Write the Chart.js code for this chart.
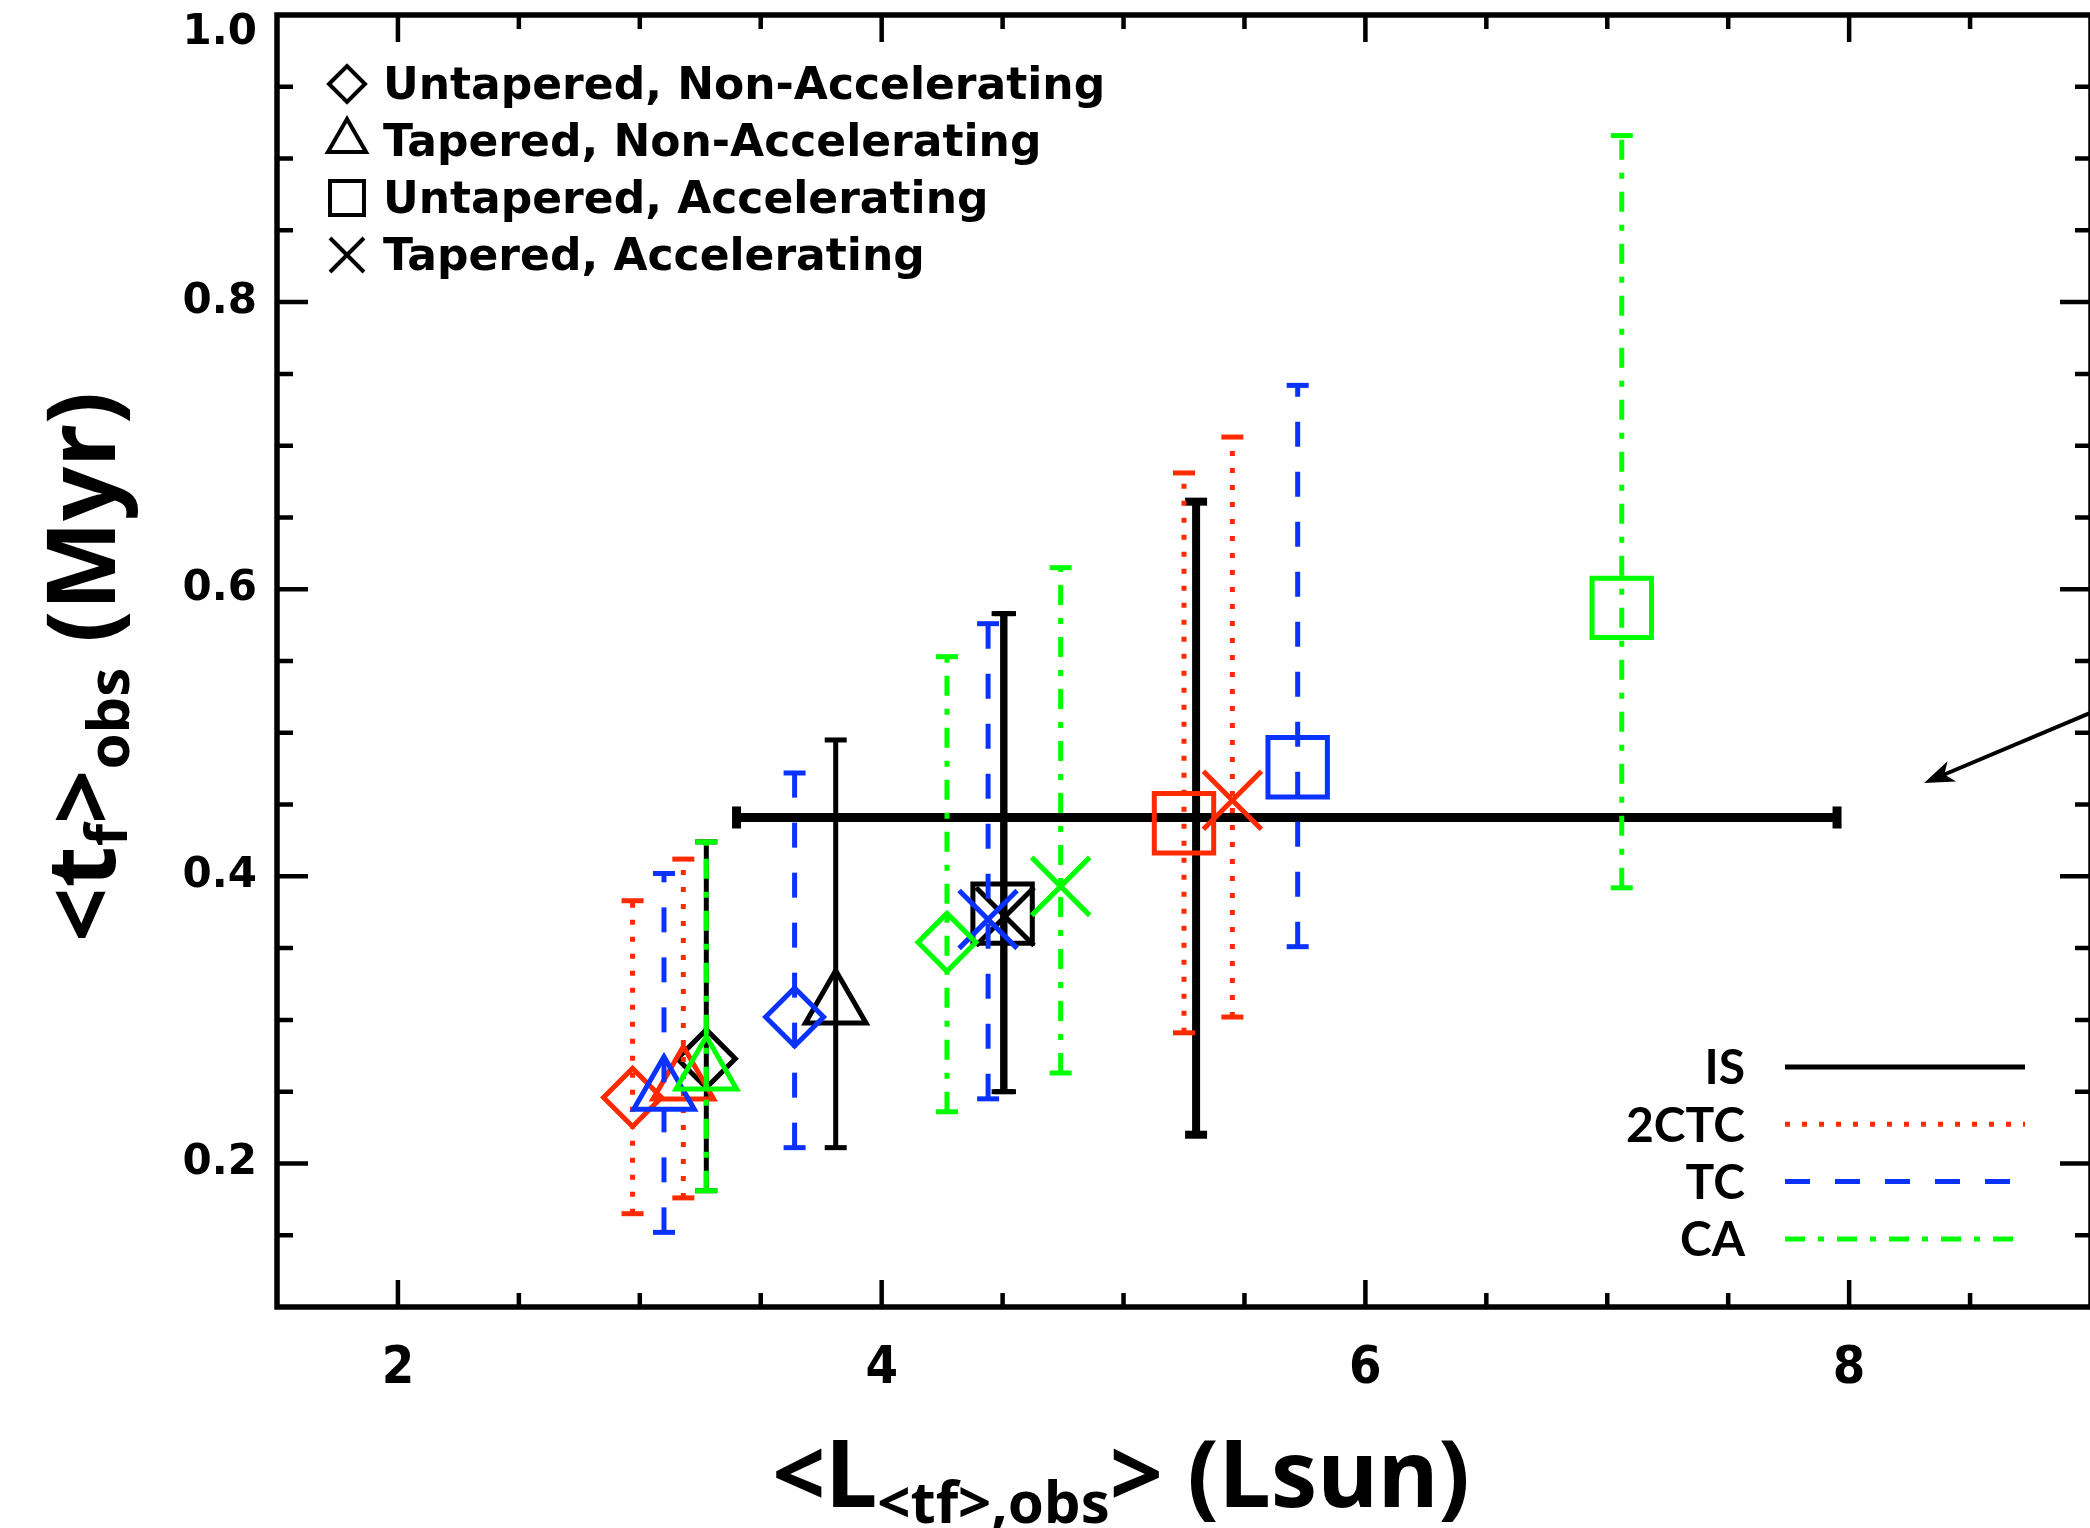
<!DOCTYPE html>
<html>
<head>
<meta charset="utf-8">
<script src="https://cdn.jsdelivr.net/npm/chart.js@4.4.1/dist/chart.umd.min.js"></script>
<style>
  html, body { margin: 0; padding: 0; background: #fff; overflow: hidden; }
  #wrap { position: absolute; left: 0; top: 0; width: 2100px; height: 1528px; }
</style>
</head>
<body>
<div id="wrap"><canvas id="chart" width="2100" height="1528"></canvas></div>
<script>
// models and marker shapes
const modelNames = ['IS', '2CTC', 'TC', 'CA'];
const modelColors = ['#000000', '#ff2a00', '#0a32ff', '#00ff00'];
const modelDash = [[], [5, 12], [25, 25], [20, 13, 6, 13]];
const shapeNames = ['Untapered, Non-Accelerating', 'Tapered, Non-Accelerating',
  'Untapered, Accelerating', 'Tapered, Accelerating'];
const shapeStyles = ['rectRot', 'triangle', 'rect', 'crossRot'];
const shapeRadii = [29, 35, 42, 41];

// values per model, in shapeNames order: <L> (Lsun), <tf> (Myr), error bar low / high
const isL = [3.275, 3.81, 4.50, 4.51];
const isT = [0.273, 0.310, 0.374, 0.372];
const isLo = [0.181, 0.211, 0.250, 0.250];
const isHi = [0.424, 0.495, 0.583, 0.583];

const ctcL = [2.97, 3.18, 5.25, 5.45];
const ctcT = [0.246, 0.257, 0.437, 0.453];
const ctcLo = [0.165, 0.176, 0.291, 0.302];
const ctcHi = [0.383, 0.412, 0.681, 0.706];

const tcL = [3.64, 3.10, 5.72, 4.44];
const tcT = [0.302, 0.250, 0.476, 0.370];
const tcLo = [0.211, 0.152, 0.351, 0.245];
const tcHi = [0.472, 0.402, 0.742, 0.576];

const caL = [4.27, 3.275, 7.06, 4.74];
const caT = [0.354, 0.264, 0.587, 0.393];
const caLo = [0.236, 0.181, 0.392, 0.263];
const caHi = [0.553, 0.424, 0.916, 0.615];

// observed value with its ranges
const obsL = 5.30;
const obsT = 0.441;
const obsLRange = [3.40, 7.95];
const obsTRange = [0.220, 0.661];

// arrow (from, to) in data units
const arrowFrom = [9.0, 0.514];
const arrowTo = [8.31, 0.465];

// axes
const xMin = 1.5, xMax = 9.0, xMinorStep = 0.5;
const yMin = 0.1, yMax = 1.0, yMinorStep = 0.05;
const xTickValues = [2, 4, 6, 8];
const yTickValues = [0.2, 0.4, 0.6, 0.8, 1.0];

const modelL = [isL, ctcL, tcL, caL];
const modelT = [isT, ctcT, tcT, caT];
const modelLo = [isLo, ctcLo, tcLo, caLo];
const modelHi = [isHi, ctcHi, tcHi, caHi];

const datasets = [];

// markers and error bars; lower order is drawn on top
modelNames.forEach((name, m) => {
  const color = modelColors[m];
  datasets.push({
    label: name,
    data: modelL[m].map((x, i) => ({ x: x, y: modelT[m][i] })),
    showLine: false,
    pointStyle: shapeStyles,
    pointRadius: shapeRadii,
    pointHoverRadius: shapeRadii,
    pointBorderWidth: 5,
    pointBorderColor: color,
    pointBackgroundColor: 'rgba(0,0,0,0)',
    order: 7 - 2 * m
  });
  modelL[m].forEach((x, i) => {
    datasets.push({
      label: name + ' err',
      data: [{ x: x, y: modelLo[m][i] }, { x: x, y: modelHi[m][i] }],
      showLine: true,
      borderColor: color,
      borderWidth: 5,
      borderDash: modelDash[m],
      pointStyle: 'line',
      pointRadius: 11,
      pointHoverRadius: 11,
      pointBorderWidth: 5,
      pointBorderColor: color,
      order: 8 - 2 * m
    });
  });
});

// observed ranges
datasets.push({
  label: 'obs L',
  data: [{ x: obsLRange[0], y: obsT }, { x: obsLRange[1], y: obsT }],
  showLine: true, borderColor: '#000', borderWidth: 9,
  pointStyle: 'line', pointRotation: 90, pointRadius: 11, pointHoverRadius: 11,
  pointBorderWidth: 9, pointBorderColor: '#000', order: 9
});
datasets.push({
  label: 'obs t',
  data: [{ x: obsL, y: obsTRange[0] }, { x: obsL, y: obsTRange[1] }],
  showLine: true, borderColor: '#000', borderWidth: 8,
  pointStyle: 'line', pointRadius: 11, pointHoverRadius: 11,
  pointBorderWidth: 8, pointBorderColor: '#000', order: 9
});

function drawShape(ctx, style, r, x, y, color) {
  ctx.save();
  ctx.strokeStyle = color;
  ctx.fillStyle = 'rgba(0,0,0,0)';
  Chart.helpers.drawPoint(ctx, { pointStyle: style, radius: r, borderWidth: 4, rotation: 0 }, x, y);
  ctx.restore();
}

function drawParts(ctx, parts, cx, base) {
  let total = 0;
  parts.forEach(p => { ctx.font = p.font; p.w = ctx.measureText(p.text).width; total += p.w; });
  let x = cx - total / 2;
  parts.forEach(p => {
    ctx.font = p.font;
    ctx.fillText(p.text, x, base + (p.dy || 0));
    x += p.w;
  });
}

const framePlugin = {
  id: 'frame',
  afterDatasetsDraw(chart) {
    const { ctx, chartArea: a, scales: { x, y } } = chart;
    ctx.save();
    ctx.strokeStyle = '#000';
    ctx.lineCap = 'butt';

    // inward ticks on all four sides
    ctx.lineWidth = 4.5;
    ctx.beginPath();
    const nx = Math.round((xMax - xMin) / xMinorStep);
    for (let i = 1; i < nx; i++) {
      const v = xMin + i * xMinorStep;
      const major = xTickValues.some(t => Math.abs(t - v) < 1e-6);
      const len = major ? 27 : 14;
      const px = x.getPixelForValue(v);
      ctx.moveTo(px, a.bottom); ctx.lineTo(px, a.bottom - len);
      ctx.moveTo(px, a.top); ctx.lineTo(px, a.top + len);
    }
    const ny = Math.round((yMax - yMin) / yMinorStep);
    for (let i = 1; i < ny; i++) {
      const v = yMin + i * yMinorStep;
      const major = yTickValues.some(t => Math.abs(t - v) < 1e-6);
      const len = major ? 31 : 16;
      const py = y.getPixelForValue(v);
      ctx.moveTo(a.left, py); ctx.lineTo(a.left + len, py);
      ctx.moveTo(a.right, py); ctx.lineTo(a.right - len, py);
    }
    ctx.stroke();

    ctx.lineWidth = 5.5;
    ctx.strokeRect(a.left, a.top, a.right - a.left, a.bottom - a.top);

    // arrow
    const x0 = x.getPixelForValue(arrowFrom[0]), y0 = y.getPixelForValue(arrowFrom[1]);
    const x1 = x.getPixelForValue(arrowTo[0]), y1 = y.getPixelForValue(arrowTo[1]);
    const ang = Math.atan2(y1 - y0, x1 - x0);
    ctx.lineWidth = 4;
    ctx.beginPath();
    ctx.moveTo(x0, y0);
    ctx.lineTo(x1 - 20 * Math.cos(ang), y1 - 20 * Math.sin(ang));
    ctx.stroke();
    ctx.fillStyle = '#000';
    ctx.beginPath();
    ctx.moveTo(x1, y1);
    ctx.lineTo(x1 - 30 * Math.cos(ang) + 11 * Math.sin(ang), y1 - 30 * Math.sin(ang) - 11 * Math.cos(ang));
    ctx.lineTo(x1 - 22 * Math.cos(ang), y1 - 22 * Math.sin(ang));
    ctx.lineTo(x1 - 30 * Math.cos(ang) - 11 * Math.sin(ang), y1 - 30 * Math.sin(ang) + 11 * Math.cos(ang));
    ctx.closePath();
    ctx.fill();

    // shape legend (top left)
    const shapeLegendR = [18, 22, 24, 24];
    ctx.textBaseline = 'alphabetic';
    ctx.textAlign = 'left';
    shapeNames.forEach((s, i) => {
      const ry = 84 + i * 57;
      drawShape(ctx, shapeStyles[i], shapeLegendR[i], 347, ry, '#000');
      ctx.fillStyle = '#000';
      ctx.font = 'bold 44px "DejaVu Sans"';
      ctx.fillText(s, 383, ry + 15);
    });

    // model legend (bottom right)
    ctx.textAlign = 'right';
    ctx.textBaseline = 'middle';
    modelNames.forEach((n, m) => {
      const ry = 1067 + m * 57.3;
      ctx.fillStyle = '#000';
      ctx.font = 'bold 48px Lato';
      ctx.fillText(n, 1745, ry + 2);
      ctx.strokeStyle = modelColors[m];
      ctx.lineWidth = 5;
      ctx.setLineDash(modelDash[m]);
      ctx.beginPath();
      ctx.moveTo(1785, ry); ctx.lineTo(2025, ry);
      ctx.stroke();
      ctx.setLineDash([]);
    });
    ctx.restore();
  },
  afterDraw(chart) {
    const { ctx } = chart;
    ctx.save();
    ctx.fillStyle = '#000';
    ctx.textAlign = 'left';
    ctx.textBaseline = 'alphabetic';
    // x title
    drawParts(ctx, [
      { text: '<L', font: 'bold 93px "Noto Sans"' },
      { text: '<tf>,obs', font: 'bold 58px "Noto Sans"', dy: 16 },
      { text: '> (Lsun)', font: 'bold 93px "Noto Sans"' }
    ], 1121, 1507);
    // y title
    ctx.translate(115, 667);
    ctx.rotate(-Math.PI / 2);
    drawParts(ctx, [
      { text: '<t', font: 'bold 95px "Noto Sans"' },
      { text: 'f', font: 'bold 58px "Noto Sans"', dy: 12 },
      { text: '>', font: 'bold 95px "Noto Sans"' },
      { text: 'obs', font: 'bold 58px "Noto Sans"', dy: 14 },
      { text: ' (Myr)', font: 'bold 95px "Noto Sans"' }
    ], 0, 0);
    ctx.restore();
  }
};

new Chart(document.getElementById('chart'), {
  type: 'scatter',
  data: { datasets: datasets },
  options: {
    responsive: false,
    animation: false,
    devicePixelRatio: 1,
    events: [],
    layout: { autoPadding: false, padding: { left: 0, top: 15, right: 9, bottom: 0 } },
    plugins: { legend: { display: false }, tooltip: { enabled: false } },
    scales: {
      x: {
        type: 'linear', position: 'bottom', min: xMin, max: xMax,
        grid: { display: false, drawTicks: false },
        border: { display: false },
        ticks: {
          color: '#000', padding: 31,
          font: { family: '"Liberation Sans Narrow", "DejaVu Sans Condensed", "DejaVu Sans"', size: 52, weight: 'bold' },
          callback: v => String(v)
        },
        afterBuildTicks: s => { s.ticks = xTickValues.map(v => ({ value: v })); },
        afterFit: s => { s.height = 221; s.paddingLeft = 0; s.paddingRight = 0; }
      },
      y: {
        type: 'linear', position: 'left', min: yMin, max: yMax,
        grid: { display: false, drawTicks: false },
        border: { display: false },
        ticks: {
          color: '#000', padding: 20,
          font: { family: '"DejaVu Sans"', size: 42, weight: 'bold', lineHeight: 0.86 },
          // top label sits just below the frame corner, as in the original
          callback: v => (v >= yMax - 1e-9 ? ['', v.toFixed(1)] : v.toFixed(1))
        },
        afterBuildTicks: s => { s.ticks = yTickValues.map(v => ({ value: v })); },
        afterFit: s => { s.width = 277; s.paddingTop = 0; s.paddingBottom = 0; }
      }
    }
  },
  plugins: [framePlugin]
});
</script>
</body>
</html>
